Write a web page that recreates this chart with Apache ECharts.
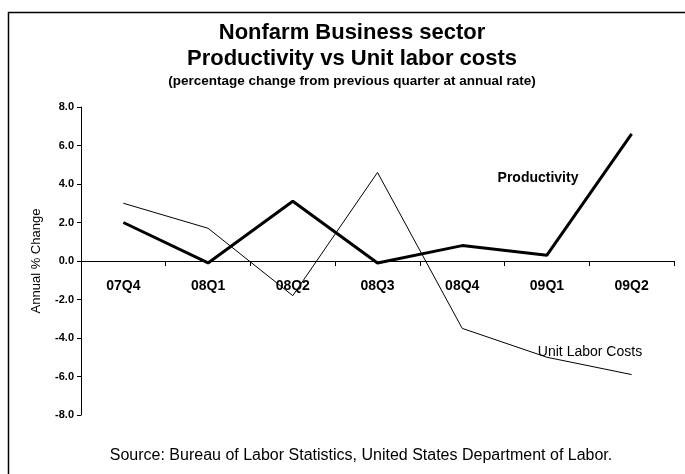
<!DOCTYPE html>
<html>
<head>
<meta charset="utf-8">
<script src="https://cdn.jsdelivr.net/npm/echarts@6/dist/echarts.min.js"></script>
<style>html,body{margin:0;padding:0;background:#fff}#c{width:685px;height:474px}</style>
</head>
<body>
<div id="c"></div>
<script>
var categories = ['07Q4','08Q1','08Q2','08Q3','08Q4','09Q1','09Q2'];
var productivity = [2.0, -0.1, 3.1, -0.1, 0.8, 0.3, 6.6];
var unitLaborCosts = [3.0, 1.7, -1.8, 4.6, -3.5, -5.0, -5.9];
var yTicks = [-8, -6, -4, -2, 0, 2, 4, 6, 8];

var chart = echarts.init(document.getElementById('c'), null, {renderer: 'canvas'});
var F = '"Liberation Sans", Arial, sans-serif';
chart.setOption({
  animation: false,
  backgroundColor: '#fff',
  grid: {left: 81, right: 11, top: 107, bottom: 59, containLabel: false},
  graphic: [
    {type: 'rect', shape: {x: 8.5, y: 12.5, width: 720, height: 520}, style: {fill: 'none', stroke: '#000', lineWidth: 1.5}, z: -1},
    {type: 'text', x: 352, y: 33, style: {text: 'Nonfarm Business sector', font: 'bold 22px ' + F, fill: '#000', textAlign: 'center', textVerticalAlign: 'middle'}},
    {type: 'text', x: 352, y: 59, style: {text: 'Productivity vs Unit labor costs', font: 'bold 22px ' + F, fill: '#000', textAlign: 'center', textVerticalAlign: 'middle'}},
    {type: 'text', x: 352, y: 81, style: {text: '(percentage change from previous quarter at annual rate)', font: 'bold 13.5px ' + F, fill: '#000', textAlign: 'center', textVerticalAlign: 'middle'}},
    {type: 'text', x: 538, y: 178, style: {text: 'Productivity', font: 'bold 14px ' + F, fill: '#000', textAlign: 'center', textVerticalAlign: 'middle'}},
    {type: 'text', x: 590, y: 352, style: {text: 'Unit Labor Costs', font: '14px ' + F, fill: '#000', textAlign: 'center', textVerticalAlign: 'middle'}},
    {type: 'text', x: 361, y: 456, style: {text: 'Source: Bureau of Labor Statistics, United States Department of Labor.', font: '16px ' + F, fill: '#000', textAlign: 'center', textVerticalAlign: 'middle'}}
  ],
  xAxis: {
    type: 'category',
    data: categories,
    boundaryGap: true,
    axisLine: {onZero: true, lineStyle: {color: '#000', width: 1}},
    axisTick: {show: true, inside: false, length: 5, lineStyle: {color: '#000'}},
    axisLabel: {color: '#000', fontFamily: F, fontWeight: 'bold', fontSize: 14, margin: -136},
    splitLine: {show: false}
  },
  yAxis: {
    type: 'value',
    min: yTicks[0], max: yTicks[yTicks.length - 1], interval: 2,
    name: 'Annual % Change',
    nameLocation: 'middle',
    nameGap: 38,
    nameTextStyle: {color: '#000', fontFamily: F, fontSize: 13},
    axisLine: {show: true, lineStyle: {color: '#000', width: 1}},
    axisTick: {show: true, length: 4, lineStyle: {color: '#000'}},
    axisLabel: {color: '#000', fontFamily: F, fontWeight: 'bold', fontSize: 11, margin: 7,
      formatter: function (v) { return v.toFixed(1); }},
    splitLine: {show: false}
  },
  series: [
    {name: 'Productivity', type: 'line', data: productivity, showSymbol: false, symbol: 'none',
      lineStyle: {color: '#000', width: 3}, z: 3},
    {name: 'Unit Labor Costs', type: 'line', data: unitLaborCosts, showSymbol: false, symbol: 'none',
      lineStyle: {color: '#000', width: 1}, z: 2}
  ]
});
</script>
</body>
</html>
